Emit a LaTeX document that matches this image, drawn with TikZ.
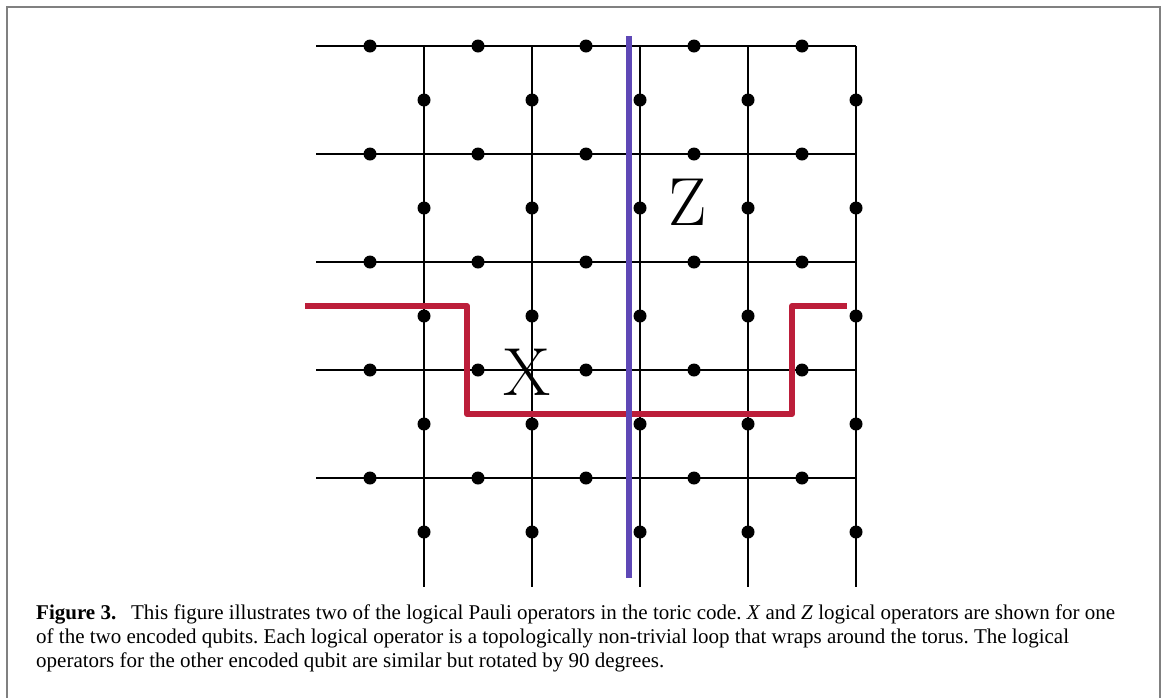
\documentclass[tikz,border=0pt]{standalone}
\usepackage{fontspec}
\setmainfont{Liberation Serif}
\newfontfamily\lmfont{Latin Modern Roman}
\definecolor{framegray}{RGB}{128,128,128}
\definecolor{zblue}{RGB}{94,72,182}
\definecolor{xred}{RGB}{188,30,58}
\begin{document}
\frenchspacing
\begin{tikzpicture}[x=1pt,y=-1pt,
  grid/.style={line width=2pt,black},
  qubit/.style={circle,fill=black,inner sep=0pt,minimum size=13pt},
  zop/.style={line width=6.5pt,zblue},
  xop/.style={line width=6pt,xred,line join=round},
  oplabel/.style={inner sep=0pt,font=\lmfont\fontsize{68}{68}\selectfont},
  captext/.style={anchor=base west,inner sep=0pt,font=\fontsize{21}{24}\selectfont}]
\useasboundingbox (0,0) rectangle (1165,697);
% frame
\draw[framegray,line width=1.5pt] (7,698) -- (7,7) -- (1160,7) -- (1160,698);
% grid lines
\foreach \y in {46,154,262,370,478} \draw[grid] (316,\y) -- (856,\y);
\foreach \x in {424,532,640,748,856} \draw[grid] (\x,46) -- (\x,587);
% X operator
\coordinate (xa) at (305,306);
\coordinate (xb) at (467,306);
\coordinate (xc) at (467,414);
\coordinate (xd) at (792,414);
\coordinate (xe) at (792,306);
\coordinate (xf) at (847,306);
\draw[xop] (xa) -- (xb) -- (xc) -- (xd) -- (xe) -- (xf);
% qubits
\foreach \y in {46,154,262,370,478}
  \foreach \x in {370,478,586,694,802} \node[qubit] at (\x,\y) {};
\foreach \x in {424,532,640,748,856}
  \foreach \y in {100,208,316,424,532} \node[qubit] at (\x,\y) {};
% Z operator
\coordinate (za) at (629,36);
\coordinate (zb) at (629,578);
\draw[zop] (za) -- (zb);
% labels
\node[oplabel] (zl) at (687.5,202) {Z};
\node[oplabel] (xl) at (527,372) {X};
% caption
\node[captext] (c1) at (36,619) {\textbf{Figure 3.}\hspace{0.7em}This figure illustrates two of the logical Pauli operators in the toric code. \textit{X} and \textit{Z} logical operators are shown for one};
\node[captext] (c2) at (36,643) {of the two encoded qubits. Each logical operator is a topologically non-trivial loop that wraps around the torus. The logical};
\node[captext] (c3) at (36,667) {operators for the other encoded qubit are similar but rotated by 90 degrees.};
\end{tikzpicture}
\end{document}
